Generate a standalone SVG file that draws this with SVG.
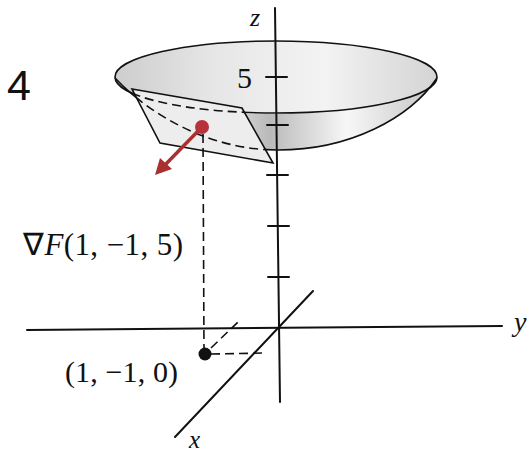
<svg xmlns="http://www.w3.org/2000/svg" width="531" height="455" viewBox="0 0 531 455">
  <style>
    .ax { stroke: #111; stroke-width: 2; fill: none; stroke-linecap: round; }
    .ln { stroke: #111; stroke-width: 1.6; }
    .dash { stroke: #111; stroke-width: 1.6; fill: none; stroke-dasharray: 9 5; }
  </style>
  <defs>
    <linearGradient id="rimFill" x1="115" y1="0" x2="437" y2="0" gradientUnits="userSpaceOnUse">
      <stop offset="0" stop-color="#cdcdcd"/>
      <stop offset="0.3" stop-color="#e6e6e6"/>
      <stop offset="0.65" stop-color="#f3f3f3"/>
      <stop offset="1" stop-color="#d4d4d4"/>
    </linearGradient>
    <linearGradient id="outerFill" x1="115" y1="0" x2="437" y2="0" gradientUnits="userSpaceOnUse">
      <stop offset="0" stop-color="#c8c8c8"/>
      <stop offset="0.4" stop-color="#cfcfcf"/>
      <stop offset="0.48" stop-color="#bababa"/>
      <stop offset="0.72" stop-color="#f7f7f7"/>
      <stop offset="1" stop-color="#c4c4c4"/>
    </linearGradient>
    <clipPath id="planeClip">
      <polygon points="132,89 242,108 273,163 160,143"/>
    </clipPath>
  </defs>

  <!-- bowl surface -->
  <g id="bowl">
    <path d="M115,78 C150,115 210,150 278,150 C350,150 410,118 437,78 A161,36 0 0 1 115,78 Z" fill="url(#outerFill)"/>
    <ellipse cx="276" cy="77" rx="161" ry="36" fill="url(#rimFill)" class="ln"/>
    <path d="M115,78 C150,115 210,150 278,150 C350,150 410,118 437,78" fill="none" class="ln"/>
  </g>

  <!-- tangent plane with hidden curves -->
  <g id="plane">
    <polygon points="132,89 242,108 273,163 160,143" fill="#ededed" class="ln"/>
    <g clip-path="url(#planeClip)">
      <ellipse cx="276" cy="77" rx="161" ry="36" class="dash"/>
      <path d="M115,78 C150,115 210,150 278,150" class="dash"/>
    </g>
  </g>

  <!-- axes -->
  <g id="axes">
    <line x1="275" y1="8" x2="280" y2="402" class="ax"/>
    <line x1="27" y1="330" x2="502" y2="326" class="ax"/>
    <line x1="313" y1="291" x2="175" y2="437" class="ax"/>
    <g class="ax">
      <line x1="266" y1="77" x2="287" y2="77"/>
      <line x1="267" y1="125" x2="288" y2="125"/>
      <line x1="267" y1="175" x2="288" y2="175"/>
      <line x1="268" y1="226" x2="289" y2="226"/>
      <line x1="268" y1="277" x2="289" y2="277"/>
    </g>
  </g>

  <!-- projection lines -->
  <g id="connectors">
    <line x1="203" y1="134" x2="204" y2="350" class="dash"/>
    <line x1="211" y1="354" x2="266" y2="353" class="dash"/>
    <line x1="211" y1="348" x2="238" y2="322" class="dash"/>
  </g>

  <!-- gradient vector at the point -->
  <g id="gradient">
    <line x1="202" y1="127" x2="164" y2="166" stroke="#a8302f" stroke-width="3.5"/>
    <polygon points="155,175 160,158 172,169" fill="#a8302f"/>
    <circle cx="202" cy="127" r="7" fill="#b7323a"/>
  </g>

  <g id="base-point">
    <circle cx="205" cy="354" r="6.5" fill="#111"/>
  </g>

  <!-- labels -->
  <g id="labels" fill="#111" font-family="'Liberation Serif', 'Times New Roman', serif">
    <text x="7" y="100" font-family="'Liberation Sans', Arial, sans-serif" font-size="43">4</text>
    <text x="250" y="26" font-style="italic" font-size="26">z</text>
    <text x="237" y="88" font-size="30">5</text>
    <text x="514" y="331" font-style="italic" font-size="28">y</text>
    <text x="189" y="448" font-style="italic" font-size="25">x</text>
    <text x="23" y="255" font-size="31" textLength="160" lengthAdjust="spacing">∇<tspan font-style="italic">F</tspan>(1, −1, 5)</text>
    <text x="65" y="382" font-size="30" textLength="113" lengthAdjust="spacing">(1, −1, 0)</text>
  </g>
</svg>
